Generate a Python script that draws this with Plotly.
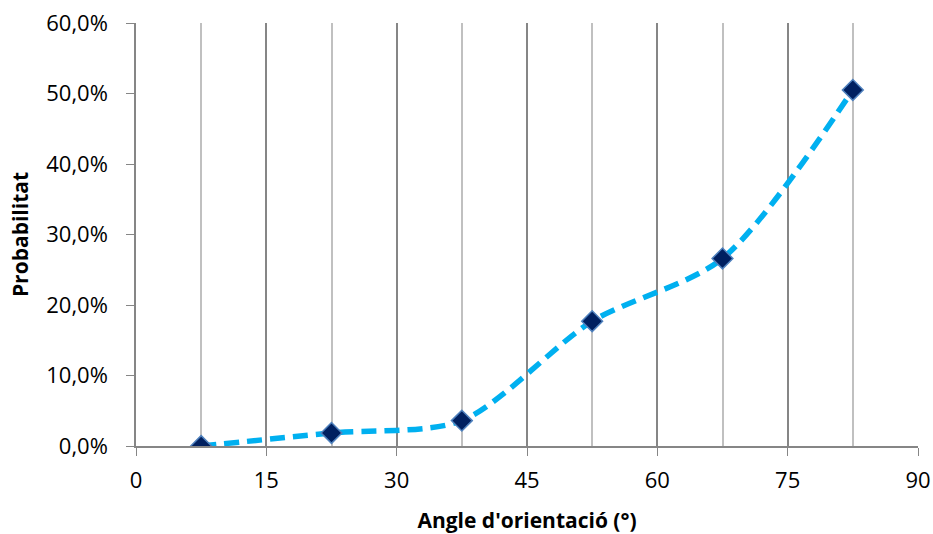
import plotly.graph_objects as go

angles = [7.5, 22.5, 37.5, 52.5, 67.5, 82.5]
probabilities = [0.0, 0.0185, 0.036, 0.177, 0.266, 0.505]

x_ticks = [0, 15, 30, 45, 60, 75, 90]
y_ticks = [0.0, 0.1, 0.2, 0.3, 0.4, 0.5, 0.6]

fig = go.Figure()
fig.add_trace(go.Scatter(
    x=angles, y=probabilities, mode="lines+markers",
    line=dict(color="#00B0F0", width=5.5, dash="15px,8px", shape="spline", smoothing=0.8),
    marker=dict(symbol="diamond", size=16, color="#002060",
                line=dict(color="#4F81BD", width=1.5)),
    showlegend=False,
))

font_family = "Open Sans, Liberation Sans, sans-serif"
fig.update_layout(
    width=933, height=534,
    margin=dict(l=136, r=15, t=23, b=88),
    plot_bgcolor="white", paper_bgcolor="white",
    separators=",.",
    font=dict(family=font_family, size=22, color="black"),
    xaxis=dict(
        range=[0, 90], tickvals=x_ticks, ticks="outside", ticklen=8,
        tickcolor="#868686", showline=True, linecolor="#868686", linewidth=1.5,
        showgrid=True, gridcolor="#868686", gridwidth=1.5,
        minor=dict(dtick=7.5, tick0=0, showgrid=True, gridcolor="#C0C0C0", gridwidth=1.5),
        zeroline=False, tickfont=dict(size=22), automargin=False,
        ticklabelstandoff=6,
        title=dict(text="<b>Angle d'orientació (°)</b>", font=dict(size=21), standoff=20),
    ),
    yaxis=dict(
        range=[0, 0.6], tickvals=y_ticks, tickformat=".1%", ticks="outside", ticklen=8,
        tickcolor="#868686", showline=True, linecolor="#868686", linewidth=1.5,
        showgrid=False, zeroline=False, tickfont=dict(size=22), automargin=False,
        ticklabelstandoff=14,
        title=dict(text="<b>Probabilitat</b>", font=dict(size=21), standoff=12),
    ),
)

fig.write_html("out.html")
